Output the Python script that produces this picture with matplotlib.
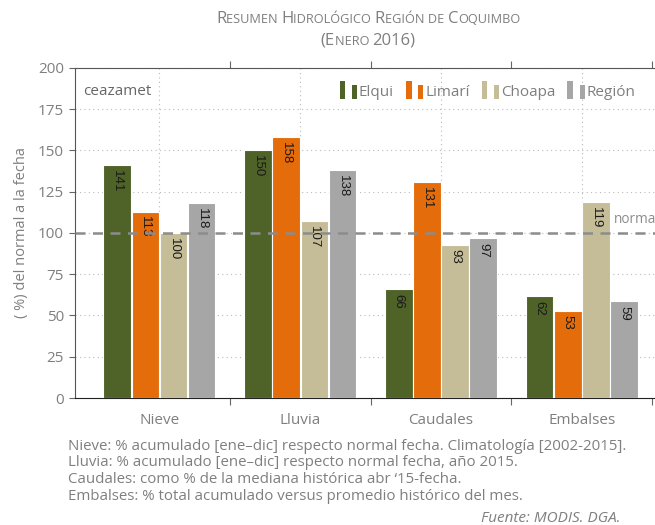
import numpy as np
import matplotlib
matplotlib.use("Agg")
import matplotlib.pyplot as plt
from matplotlib.patches import Patch, Rectangle
from matplotlib.legend_handler import HandlerBase
from matplotlib.offsetbox import TextArea, HPacker, AnchoredOffsetbox

# ============================================================
# DATA
# ============================================================

categories = ["Nieve", "Lluvia", "Caudales", "Embalses"]
series     = ["Elqui", "Limarí", "Choapa", "Región"]
elqui  = [141, 150, 66, 62]
limari = [113, 158, 131, 53]
choapa = [100, 107, 93, 119]
region = [118, 138, 97, 59]
values = [elqui, limari, choapa, region]

colors = ["#4f6228", "#e46c0a", "#c4bd97", "#a6a6a6"]
y_ticks = [0, 25, 50, 75, 100, 125, 150, 175, 200]

notes = [
    "Nieve: % acumulado [ene\u2013dic] respecto normal fecha. Climatología [2002-2015].",
    "Lluvia: % acumulado [ene\u2013dic] respecto normal fecha, año 2015.",
    "Caudales: como % de la mediana histórica abr \u201815-fecha.",
    "Embalses: % total acumulado versus promedio histórico del mes.",
]

FONT  = "Open Sans"
GREY  = "#7f7f7f"
plt.rcParams["font.family"] = [FONT, "DejaVu Sans"]

# ============================================================
# Legend handler: two thin bars
# ============================================================

class TwoBars(HandlerBase):
    def create_artists(self, legend, orig_handle, xdescent, ydescent,
                       width, height, fontsize, trans):
        c = orig_handle.get_facecolor()
        r1 = Rectangle((-xdescent, -ydescent - 2), 4.0, height + 5,
                       facecolor=c, edgecolor="none", transform=trans)
        r2 = Rectangle((-xdescent + 9, -ydescent - 2), 3.5, height + 2,
                       facecolor=c, edgecolor="none", transform=trans)
        return [r1, r2]

# ============================================================
# Plot
# ============================================================

fig = plt.figure(figsize=(6.55, 5.25), dpi=100)
ax = fig.add_axes([0.1145, 0.2419, 0.8855, 0.6286])

x = np.arange(len(categories))
bw = 0.2
for i, (vals, col) in enumerate(zip(values, colors)):
    xs = x + (i - 1.5) * bw
    ax.bar(xs, vals, width=bw * 0.98, color=col, edgecolor="white",
           linewidth=0.8, zorder=3)
    for xi, v in zip(xs, vals):
        ax.text(xi, v - 3, str(v), rotation=-90, ha="center", va="top",
                fontsize=9.5, color="#1a1a1a", family="Liberation Sans",
                zorder=4)

ax.axhline(100, color="#8c8c8c", linestyle=(0, (4, 3)), linewidth=1.8, zorder=5)
ax.text(3.225, 108, "norma", fontsize=9.8, color="#8c8c8c", ha="left", va="center")
ax.text(-0.54, 186, "ceazamet", fontsize=11, color="#666666", ha="left", va="center")

ax.set_xlim(-0.6, 3.52)
ax.set_ylim(0, 200)
ax.set_yticks(y_ticks)
ax.set_xticks(x + 0.5)
ax.set_xticklabels([])
ax.set_xticks(x, minor=True)
ax.set_xticklabels(categories, minor=True)
ax.tick_params(axis="x", which="minor", length=0, pad=11, labelsize=11,
               labelcolor=GREY)
ax.tick_params(axis="x", which="major", length=5, color="#666666",
               top=True, direction="out")
ax.tick_params(axis="y", length=4, color="#666666", labelsize=11,
               labelcolor=GREY, pad=4)

ax.grid(True, axis="y", linestyle=(0, (1, 3)), color="#bbbbbb",
        linewidth=0.8, zorder=0)
ax.grid(True, axis="x", which="minor", linestyle=(0, (1, 3)), color="#bbbbbb",
        linewidth=0.8, zorder=0)

for s in ["left", "top"]:
    ax.spines[s].set_color("#555555")
ax.spines["bottom"].set_color("#222222")
ax.spines["right"].set_visible(False)

ax.set_ylabel("( %) del normal a la fecha", fontsize=10.5, color=GREY, labelpad=6)

handles = [Patch(facecolor=c) for c in colors]
leg = ax.legend(handles, series, ncol=4, loc="upper right",
                bbox_to_anchor=(0.99, 0.99), frameon=False,
                handler_map={Patch: TwoBars()}, handlelength=0.95,
                handletextpad=0.3, columnspacing=0.8, fontsize=11)
for t in leg.get_texts():
    t.set_color(GREY)

# ============================================================
# Small-caps title
# ============================================================

def small_caps(pieces, big=12, small=9.2):
    boxes = []
    for txt, is_big in pieces:
        boxes.append(TextArea(txt, textprops=dict(
            fontsize=big if is_big else small, color=GREY, family=FONT)))
    return HPacker(children=boxes, align="baseline", pad=0, sep=0)

line1 = small_caps([("R", 1), ("ESUMEN ", 0), ("H", 1), ("IDROLÓGICO ", 0),
                    ("R", 1), ("EGIÓN DE ", 0), ("C", 1), ("OQUIMBO", 0)])
line2 = small_caps([("(E", 1), ("NERO ", 0), ("2016)", 1)])

for box, yy in [(line1, 0.963), (line2, 0.922)]:
    ab = AnchoredOffsetbox(loc="center", child=box, pad=0, frameon=False,
                           bbox_to_anchor=(0.562, yy),
                           bbox_transform=fig.transFigure, borderpad=0)
    ax.add_artist(ab)

# ============================================================
# Notes
# ============================================================

for k, line in enumerate(notes):
    fig.text(0.104, 1 - (446 + k * 16.8) / 525, line, fontsize=10.8,
             color=GREY, ha="left", va="center")
fig.text(0.947, 1 - 518 / 525, "Fuente: MODIS. DGA.", fontsize=11,
         color=GREY, style="italic", ha="right", va="center")

fig.savefig("out.png", dpi=100)
